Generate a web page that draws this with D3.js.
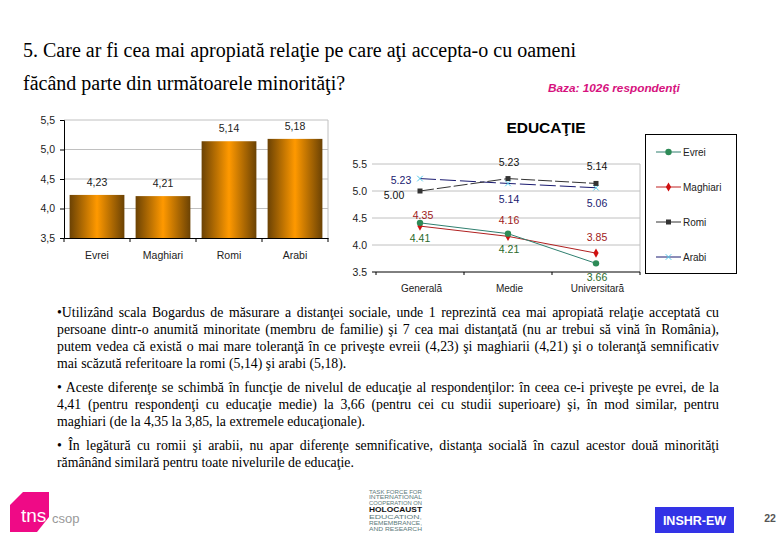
<!DOCTYPE html>
<html>
<head>
<meta charset="utf-8">
<script src="https://cdn.jsdelivr.net/npm/d3@7/dist/d3.min.js"></script>
<style>
html,body{margin:0;padding:0;background:#fff;}
svg{display:block;}
text{font-family:"Liberation Sans",Arial,sans-serif;}
.serif{font-family:"Liberation Serif","Times New Roman",serif;}
</style>
</head>
<body>
<svg id="chart" width="780" height="540"></svg>
<script>
// bar chart values
var groups=["Evrei","Maghiari","Romi","Arabi"];
var groupValues=[4.23,4.21,5.14,5.18];
var groupLabels=["4,23","4,21","5,14","5,18"];
var barTicks=[3.5,4.0,4.5,5.0,5.5];
var barTickLabels=["3,5","4,0","4,5","5,0","5,5"];

// education line chart values
var levels=["Generală","Medie","Universitară"];
var lineTicks=[3.5,4.0,4.5,5.0,5.5];
var lineTickLabels=["3.5","4.0","4.5","5.0","5.5"];
var seriesNames=["Evrei","Maghiari","Romi","Arabi"];
var evrei=[4.41,4.21,3.66];
var maghiari=[4.35,4.16,3.85];
var romi=[5.00,5.23,5.14];
var arabi=[5.23,5.14,5.06];

var titleLines=["5. Care ar fi cea mai apropiată relaţie pe care aţi accepta-o cu oameni","făcând parte din următoarele minorităţi?"];
var para1=["•Utilizând scala Bogardus de măsurare a distanţei sociale, unde 1 reprezintă cea mai apropiată relaţie acceptată cu",
"persoane dintr-o anumită minoritate (membru de familie) şi 7 cea mai distanţată (nu ar trebui să vină în România),",
"putem vedea că există o mai mare toleranţă în ce priveşte evreii (4,23) şi maghiarii (4,21) şi o toleranţă semnificativ",
"mai scăzută referitoare la romi (5,14) şi arabi (5,18)."];
var para2=["• Aceste diferenţe se schimbă în funcţie de nivelul de educaţie al respondenţilor: în ceea ce-i priveşte pe evrei, de la",
"4,41 (pentru respondenţi cu educaţie medie) la 3,66 (pentru cei cu studii superioare) şi, în mod similar, pentru",
"maghiari (de la 4,35 la 3,85, la extremele educaţionale)."];
var para3=["• În legătură cu romii şi arabii, nu apar diferenţe semnificative, distanţa socială în cazul acestor două minorităţi",
"rămânând similară pentru toate nivelurile de educaţie."];
var logoLines=["TASK FORCE FOR","INTERNATIONAL","COOPERATION ON","HOLOCAUST","EDUCATION,","REMEMBRANCE,","AND RESEARCH"];

var svg=d3.select("#chart");
var defs=svg.append("defs");
var grad=defs.append("linearGradient").attr("id","barFill");
grad.append("stop").attr("offset","0%").attr("stop-color","#6b4204");
grad.append("stop").attr("offset","50%").attr("stop-color","#ff9900");
grad.append("stop").attr("offset","100%").attr("stop-color","#6b4204");

// title
svg.selectAll(".title").data(titleLines).enter().append("text")
    .attr("class","title serif").attr("x",23).attr("y",function(d,i){return 57+i*33;})
    .attr("font-size",20).attr("fill","#000").text(function(d){return d;});
svg.append("text").attr("x",548).attr("y",92).attr("font-size",11.8)
    .attr("font-weight","bold").attr("font-style","italic").attr("fill","#d6127e")
    .text("Baza: 1026 respondenţi");

// bars
var barX=d3.scaleBand().domain(groups).range([64,328]).paddingInner(0.17).paddingOuter(0.085);
var barY=d3.scaleLinear().domain([3.5,5.5]).range([238,120]);
var barG=svg.append("g");
barG.selectAll(".grid").data(barTicks.slice(1)).enter().append("line")
    .attr("x1",64).attr("x2",328).attr("y1",barY).attr("y2",barY).attr("stroke","#c0c0c0");
barG.append("line").attr("x1",328).attr("x2",328).attr("y1",120).attr("y2",238).attr("stroke","#c0c0c0");
barG.selectAll(".bar").data(groupValues).enter().append("rect")
    .attr("x",function(d,i){return barX(groups[i]);})
    .attr("y",barY).attr("width",barX.bandwidth())
    .attr("height",function(d){return 238-barY(d);}).attr("fill","url(#barFill)");
barG.selectAll(".val").data(groupLabels).enter().append("text")
    .attr("x",function(d,i){return barX(groups[i])+barX.bandwidth()/2;})
    .attr("y",function(d,i){return barY(groupValues[i])-9;})
    .attr("text-anchor","middle").attr("font-size",10.5).attr("fill","#222").text(function(d){return d;});
var barAxisX=barG.append("g").attr("transform","translate(0,238)")
    .call(d3.axisBottom(d3.scaleBand().domain(groups).range([64,328])).tickSize(0).tickPadding(14));
barAxisX.select(".domain").attr("stroke","#000");
barAxisX.selectAll("text").attr("font-size",10.5).attr("fill","#222");
barG.selectAll(".xt").data(d3.range(5)).enter().append("line")
    .attr("x1",function(d){return 64+d*66;}).attr("x2",function(d){return 64+d*66;})
    .attr("y1",238).attr("y2",242).attr("stroke","#000");
var barAxisY=barG.append("g").attr("transform","translate(64,0)")
    .call(d3.axisLeft(barY).tickValues(barTicks).tickSize(4).tickPadding(5).tickFormat(function(d,i){return barTickLabels[i];}));
barAxisY.select(".domain").attr("stroke","#000");
barAxisY.selectAll("text").attr("font-size",10.5).attr("fill","#222");

// education lines
svg.append("text").attr("x",546).attr("y",133).attr("text-anchor","middle")
    .attr("font-size",15.5).attr("font-weight","bold").attr("fill","#000").text("EDUCAŢIE");
var lineX=d3.scalePoint().domain(levels).range([420,596]);
var lineY=d3.scaleLinear().domain([3.5,5.5]).range([272,164]);
var lineG=svg.append("g");
lineG.selectAll(".grid").data(lineTicks.slice(1)).enter().append("line")
    .attr("x1",372).attr("x2",640).attr("y1",lineY).attr("y2",lineY).attr("stroke","#c0c0c0");
lineG.append("line").attr("x1",640).attr("x2",640).attr("y1",164).attr("y2",272).attr("stroke","#c0c0c0");
var lineAxisX=lineG.append("g").attr("transform","translate(1,272)")
    .call(d3.axisBottom(lineX).tickSize(0).tickPadding(13));
lineAxisX.select(".domain").remove();
lineAxisX.selectAll("text").attr("font-size",10).attr("fill","#222");
lineG.append("line").attr("x1",372).attr("x2",640).attr("y1",272).attr("y2",272).attr("stroke","#000");
lineG.selectAll(".xt").data(d3.range(4)).enter().append("line")
    .attr("x1",function(d){return 376+d*88;}).attr("x2",function(d){return 376+d*88;})
    .attr("y1",272).attr("y2",275).attr("stroke","#000");
var lineAxisY=lineG.append("g").attr("transform","translate(376,0)")
    .call(d3.axisLeft(lineY).tickValues(lineTicks).tickSize(0).tickPadding(9).tickFormat(function(d,i){return lineTickLabels[i];}));
lineAxisY.select(".domain").remove();
lineAxisY.selectAll("text").attr("font-size",10.5).attr("fill","#222");

var pathOf=d3.line().x(function(d,i){return lineX(levels[i]);}).y(function(d){return lineY(d);});
var seriesList=[
    {name:"Arabi",values:arabi,stroke:"#1a1a70",dash:"16 4",marker:"cross",mc:"#55c8e8",text:"#1a1a70",dx:[-19,1,1],dy:[5,19.5,19]},
    {name:"Romi",values:romi,stroke:"#333",dash:"14 3",marker:"square",mc:"#333",text:"#111",dx:[-26,1,1],dy:[8,-13,-13]},
    {name:"Maghiari",values:maghiari,stroke:"#b02020",dash:null,marker:"diamond",mc:"#d01010",text:"#a02020",dx:[3,1,1],dy:[-7,-12.5,-12]},
    {name:"Evrei",values:evrei,stroke:"#2f7f6f",dash:null,marker:"circle",mc:"#2e8b57",text:"#2a6a2a",dx:[0,1,1],dy:[19,19.5,18]}
];
function drawMarker(g,type,color){
    if(type==="circle") g.append("circle").attr("r",3.2).attr("fill",color);
    if(type==="square") g.append("rect").attr("x",-2.5).attr("y",-2.5).attr("width",5).attr("height",5).attr("fill",color);
    if(type==="diamond") g.append("path").attr("d",d3.symbol().type(d3.symbolDiamond).size(24)).attr("fill",color);
    if(type==="cross") g.append("path").attr("d",d3.symbol().type(d3.symbolX).size(22)).attr("fill","none").attr("stroke",color).attr("stroke-width",1);
}
seriesList.forEach(function(s){
    lineG.append("path").attr("d",pathOf(s.values)).attr("fill","none")
        .attr("stroke",s.stroke).attr("stroke-width",1).attr("stroke-dasharray",s.dash);
    s.values.forEach(function(v,i){
        var g=lineG.append("g").attr("transform","translate("+lineX(levels[i])+","+lineY(v)+")");
        drawMarker(g,s.marker,s.mc);
        lineG.append("text").attr("x",lineX(levels[i])+s.dx[i]).attr("y",lineY(v)+s.dy[i])
            .attr("text-anchor","middle").attr("font-size",10.5).attr("fill",s.text).text(v.toFixed(2));
    });
});

// legend
svg.append("rect").attr("x",645.5).attr("y",134.5).attr("width",91).attr("height",139)
    .attr("fill","#fff").attr("stroke","#000");
var legendY=d3.scalePoint().domain(seriesNames).range([152,257]);
var legendColors={Evrei:["#2f7f6f","#2e8b57","circle"],Maghiari:["#c02020","#d01010","diamond"],Romi:["#333","#333","square"],Arabi:["#1a1a70","#55c8e8","cross"]};
seriesNames.forEach(function(n){
    var y=legendY(n);
    svg.append("line").attr("x1",656).attr("x2",681).attr("y1",y).attr("y2",y).attr("stroke",legendColors[n][0]);
    drawMarker(svg.append("g").attr("transform","translate(668.5,"+y+")"),legendColors[n][2],legendColors[n][1]);
    svg.append("text").attr("x",683).attr("y",y+3.5).attr("font-size",10).attr("fill","#222").text(n);
});

// body text, justified by hand
function para(lines,top){
    lines.forEach(function(t,i){
        var el=svg.append("text").attr("class","serif").attr("x",57).attr("y",top+i*17.1)
            .attr("font-size",13.8).attr("fill","#000").text(t);
        if(i<lines.length-1){
            var gaps=t.split(" ").length-1;
            var w=el.node().getComputedTextLength();
            el.attr("word-spacing",(719-57-w)/gaps);
        }
    });
}
para(para1,317);
para(para2,392);
para(para3,450);

// footer logos
svg.append("polygon").attr("points","23,492 49,492 49,517 37,532 10,532 10,505").attr("fill","#ef0a86");
svg.append("text").attr("x",21).attr("y",522).attr("font-size",19).attr("fill","#fff").text("tns");
svg.append("text").attr("x",52).attr("y",523).attr("font-size",13).attr("fill","#999").text("csop");

svg.selectAll(".lg").data(logoLines).enter().append("text")
    .attr("x",369).attr("y",function(d,i){return 493.5+i*5.9+(i>=3?1:0)+(i>=4?1:0);})
    .attr("font-size",function(d,i){return i===3?7.5:5.2;})
    .attr("font-weight",function(d,i){return i===3?"bold":"normal";})
    .attr("fill",function(d,i){return i===3?"#111":"#5d7a7a";})
    .attr("textLength",53).attr("lengthAdjust","spacingAndGlyphs").text(function(d){return d;});

svg.append("rect").attr("x",655).attr("y",507).attr("width",79).attr("height",26).attr("fill","#3333e6");
svg.append("text").attr("x",694.5).attr("y",524.5).attr("text-anchor","middle").attr("font-size",12.5)
    .attr("font-weight","bold").attr("fill","#fff").text("INSHR-EW");
svg.append("text").attr("x",770).attr("y",522).attr("text-anchor","middle").attr("font-size",10.5)
    .attr("font-weight","bold").attr("fill","#555").text("22");
</script>
</body>
</html>
